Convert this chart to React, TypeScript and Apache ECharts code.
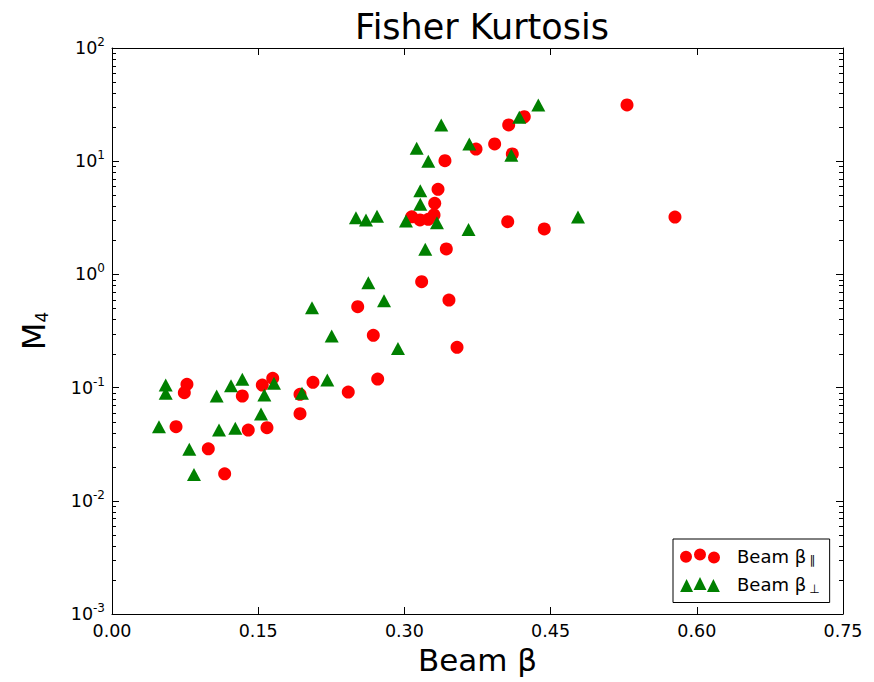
import React, { useEffect, useRef } from "react";
import * as echarts from "echarts";

const FONT = "DejaVu Sans";

// Beam β∥ (red circles)
const parX = [0.0657, 0.0742, 0.0769, 0.0988, 0.1156, 0.1337, 0.1398, 0.1542, 0.159, 0.1649, 0.1929, 0.1929, 0.2062, 0.2424, 0.2521, 0.2681, 0.2726, 0.3075, 0.316, 0.3245, 0.3304, 0.3311, 0.3345, 0.3177, 0.3416, 0.343, 0.3457, 0.354, 0.3735, 0.3926, 0.406, 0.407, 0.4107, 0.423, 0.4435, 0.5284, 0.5776];
const parY = [0.0452, 0.0901, 0.107, 0.0288, 0.0173, 0.0843, 0.0422, 0.1054, 0.0443, 0.1208, 0.0588, 0.0873, 0.1114, 0.0914, 0.519, 0.29, 0.119, 3.23, 3.03, 3.07, 3.35, 4.25, 5.65, 0.862, 10.1, 1.68, 0.594, 0.227, 12.8, 14.2, 2.92, 20.9, 11.6, 24.7, 2.52, 31.4, 3.21];

// Beam β⊥ (green triangles)
const perpX = [0.0482, 0.0551, 0.0551, 0.0793, 0.0841, 0.1074, 0.1098, 0.1221, 0.1265, 0.1337, 0.1529, 0.1563, 0.1662, 0.1949, 0.2052, 0.2209, 0.2254, 0.2503, 0.2606, 0.263, 0.2719, 0.2791, 0.2934, 0.3016, 0.3126, 0.3163, 0.3163, 0.3214, 0.3245, 0.3334, 0.3378, 0.3658, 0.3666, 0.4097, 0.4179, 0.4374, 0.4781];
const perpY = [0.0452, 0.1054, 0.0891, 0.0285, 0.0171, 0.0843, 0.0422, 0.104, 0.0437, 0.1184, 0.0585, 0.0861, 0.109, 0.0891, 0.508, 0.1167, 0.286, 3.17, 3.03, 0.845, 3.26, 0.586, 0.222, 2.96, 13.0, 5.49, 4.16, 1.67, 10.0, 2.86, 20.9, 2.49, 14.2, 11.3, 24.4, 31.4, 3.21];

const xTicks = { min: 0, max: 0.75, interval: 0.15 };
const yDecades = [-3, -2, -1, 0, 1, 2];
const minorMultipliers = [2, 3, 4, 5, 6, 7, 8, 9];

const seriesNames = ["Beam β∥", "Beam β⊥"];

function circlePath(cx: number, cy: number, r: number) {
  return `M${cx - r},${cy} a${r},${r} 0 1,0 ${2 * r},0 a${r},${r} 0 1,0 ${-2 * r},0 Z`;
}
function triPath(cx: number, cy: number, h: number) {
  return `M${cx - h},${cy + h} L${cx},${cy - h} L${cx + h},${cy + h} Z`;
}

export default function App() {
  const ref = useRef<HTMLDivElement>(null);

  useEffect(() => {
    if (!ref.current) return;
    const chart = echarts.init(ref.current, null, { renderer: "svg" });

    const minorVals: number[][] = [];
    for (let i = 0; i < yDecades.length - 1; i++) {
      for (const m of minorMultipliers) {
        minorVals.push([0, m * Math.pow(10, yDecades[i])]);
      }
    }

    const circleIcon =
      "path://" + circlePath(6, 8.3, 6) + " " + circlePath(20, 6, 6) + " " + circlePath(34, 9, 6);
    const triIcon =
      "path://" + triPath(6.5, 8.6, 6.5) + " " + triPath(20, 6.5, 6.5) + " " + triPath(33.5, 8.5, 6.5);

    const axisLine = { show: true, onZero: false, lineStyle: { color: "#000", width: 1 } };

    const option: any = {
      animation: false,
      backgroundColor: "#fff",
      textStyle: { fontFamily: FONT },
      title: {
        text: "Fisher Kurtosis",
        left: 477,
        top: 4,
        textAlign: "center",
        textStyle: { fontFamily: FONT, fontSize: 35, fontWeight: "normal", color: "#000" },
      },
      grid: { left: 112, top: 48, right: 31, bottom: 68, containLabel: false },
      legend: {
        orient: "vertical",
        left: 673,
        top: 539,
        padding: [8, 10, 8, 7],
        itemGap: 9.5,
        itemWidth: 40,
        itemHeight: 15,
        borderColor: "#000",
        borderWidth: 1,
        borderRadius: 0,
        backgroundColor: "#fff",
        data: [
          { name: seriesNames[0], icon: circleIcon },
          { name: seriesNames[1], icon: triIcon },
        ],
        formatter: (name: string) => {
          const sub = name.slice(-1);
          return `{b|${name.slice(0, -1)}}{s|${sub}}`;
        },
        textStyle: {
          fontFamily: FONT,
          color: "#000",
          padding: [0, 0, 0, 12],
          rich: {
            b: { fontFamily: FONT, fontSize: 18, lineHeight: 20, color: "#000" },
            s: { fontFamily: FONT, fontSize: 12, lineHeight: 20, verticalAlign: "bottom", color: "#000", padding: [0, 0, 0, 3] },
          },
        },
      },
      xAxis: [
        {
          type: "value",
          position: "bottom",
          min: xTicks.min,
          max: xTicks.max,
          interval: xTicks.interval,
          name: "Beam β",
          nameLocation: "middle",
          nameGap: 30,
          nameTextStyle: { fontFamily: FONT, fontSize: 31, color: "#000" },
          axisLine,
          axisTick: { show: true, inside: true, length: 7, lineStyle: { color: "#000" } },
          axisLabel: {
            fontFamily: FONT,
            fontSize: 17.5,
            color: "#000",
            margin: 8,
            formatter: (v: number) => v.toFixed(2),
          },
          splitLine: { show: false },
        },
        {
          type: "value",
          position: "top",
          min: xTicks.min,
          max: xTicks.max,
          interval: xTicks.interval,
          axisLine,
          axisTick: { show: true, inside: true, length: 7, lineStyle: { color: "#000" } },
          axisLabel: { show: false },
          splitLine: { show: false },
        },
      ],
      yAxis: [
        {
          type: "log",
          logBase: 10,
          position: "left",
          min: Math.pow(10, yDecades[0]),
          max: Math.pow(10, yDecades[yDecades.length - 1]),
          splitNumber: yDecades.length - 1,
          name: "M{sub|4}",
          nameLocation: "middle",
          nameRotate: 90,
          nameGap: 62,
          nameTextStyle: {
            fontFamily: FONT,
            fontSize: 32,
            color: "#000",
            rich: {
              sub: { fontFamily: FONT, fontSize: 17, verticalAlign: "bottom", lineHeight: 30, color: "#000" },
            },
          },
          axisLine,
          axisTick: { show: true, inside: true, length: 7, lineStyle: { color: "#000" } },
          axisLabel: {
            fontFamily: FONT,
            color: "#000",
            margin: 7,
            formatter: (v: number) => {
              const e = Math.round(Math.log10(v));
              return `{b|10}{sup|${e}}`;
            },
            rich: {
              b: { fontFamily: FONT, fontSize: 17.5, lineHeight: 24, color: "#000" },
              sup: { fontFamily: FONT, fontSize: 12, lineHeight: 24, verticalAlign: "top", color: "#000" },
            },
          },
          splitLine: { show: false },
        },
        {
          type: "log",
          logBase: 10,
          position: "right",
          min: Math.pow(10, yDecades[0]),
          max: Math.pow(10, yDecades[yDecades.length - 1]),
          splitNumber: yDecades.length - 1,
          axisLine,
          axisTick: { show: true, inside: true, length: 7, lineStyle: { color: "#000" } },
          axisLabel: { show: false },
          splitLine: { show: false },
        },
      ],
      series: [
        {
          type: "custom",
          name: "minorTicks",
          xAxisIndex: 0,
          yAxisIndex: 0,
          silent: true,
          clip: false,
          z: 1,
          data: minorVals,
          renderItem: (params: any, api: any) => {
            const p = api.coord([api.value(0), api.value(1)]);
            const cs = params.coordSys;
            const y = Math.round(p[1]) + 0.5;
            return {
              type: "group",
              children: [
                { type: "line", shape: { x1: cs.x, y1: y, x2: cs.x + 4, y2: y }, style: { stroke: "#000", lineWidth: 1 } },
                {
                  type: "line",
                  shape: { x1: cs.x + cs.width - 4, y1: y, x2: cs.x + cs.width, y2: y },
                  style: { stroke: "#000", lineWidth: 1 },
                },
              ],
            };
          },
        },
        {
          type: "scatter",
          name: seriesNames[0],
          xAxisIndex: 0,
          yAxisIndex: 0,
          symbol: "circle",
          symbolSize: 13,
          itemStyle: { color: "#ff0000", opacity: 1 },
          z: 3,
          data: parX.map((x, i) => [x, parY[i]]),
        },
        {
          type: "scatter",
          name: seriesNames[1],
          xAxisIndex: 0,
          yAxisIndex: 0,
          symbol: "triangle",
          symbolSize: [14, 13],
          itemStyle: { color: "#008000", opacity: 1 },
          z: 4,
          data: perpX.map((x, i) => [x, perpY[i]]),
        },
      ],
    };

    chart.setOption(option);
    return () => chart.dispose();
  }, []);

  return (
    <div
      ref={ref}
      style={{ position: "absolute", left: 0, top: 0, width: 874, height: 682, background: "#fff" }}
    />
  );
}
